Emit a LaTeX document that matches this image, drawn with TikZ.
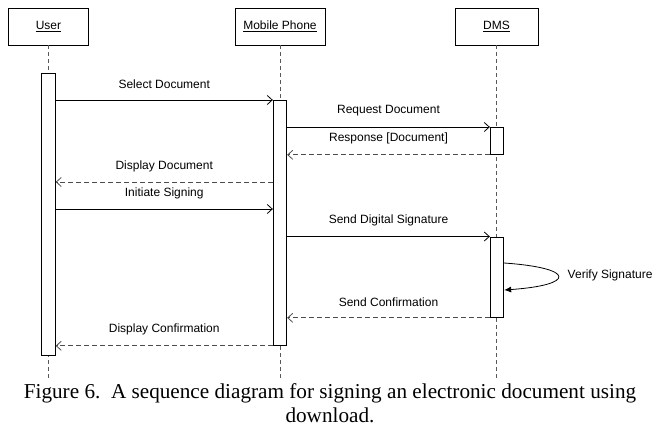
\documentclass[tikz,border=0pt]{standalone}
\usepackage{fontspec}
\setmainfont{Liberation Serif}
\newfontfamily\arialfont{Liberation Sans}
\usepackage{tikz}
\usetikzlibrary{arrows.meta, positioning, calc}

\begin{document}
\begin{tikzpicture}[x=1pt, y=-1pt, line width=0.8pt,
		actor/.style={draw, rectangle, minimum height=37pt, font=\arialfont\fontsize{12}{14}\selectfont},
		act/.style={draw, rectangle, fill=white, minimum width=13.5pt, inner sep=0pt},
		life/.style={draw=gray!70!black, dash pattern=on 4pt off 3pt},
		msg/.style={-{Straight Barb[length=5pt,width=9pt]}},
		ret/.style={msg, draw=gray!60!black, dash pattern=on 5pt off 3pt},
		lbl/.style={midway, yshift=16pt, font=\arialfont\fontsize{12}{14}\selectfont}]
		\useasboundingbox (0,0) rectangle (652,426);
		% participants
		\node[actor, minimum width=80pt] (user) at (48.5,26.5) {\underline{User}};
		\node[actor, minimum width=90pt] (phone) at (280,26.5) {\underline{Mobile Phone}};
		\node[actor, minimum width=83pt] (dms) at (496.5,26.5) {\underline{DMS}};
		\foreach \p in {user,phone,dms} {
			\coordinate (\p-end) at (\p.south |- 0,378);
			\draw[life] (\p.south) -- (\p-end);
		}
		% activations
		\node[act, anchor=north, minimum height=282pt] (ua) at (48.5,73) {};
		\node[act, anchor=north, minimum height=245pt] (pa) at (280,100) {};
		\node[act, anchor=north, minimum height=27pt] (da1) at (497,127) {};
		\node[act, anchor=north, minimum height=80.5pt] (da2) at (497,236.5) {};
		% messages
		\draw[msg] (ua.east |- pa.north) -- (pa.north west) node[lbl] {Select Document};
		\draw[msg] (pa.east |- da1.north) -- (da1.north west) node[lbl] {Request Document};
		\draw[ret] (da1.south west) -- (pa.east |- da1.south) node[lbl] {Response [Document]};
		\draw[ret] (pa.west |- 0,182) -- (ua.east |- 0,182) node[lbl] {Display Document};
		\draw[msg] (ua.east |- 0,209) -- (pa.west |- 0,209) node[lbl] {Initiate Signing};
		\draw[msg] (pa.east |- da2.north) -- (da2.north west) node[lbl] {Send Digital Signature};
		\draw[-{Latex[length=7pt,width=6pt]}] ($(da2.north east)+(0,26.5)$) .. controls (576,268) and (576,285) .. ($(da2.north east)+(0,53.5)$);
		\node[anchor=west, font=\arialfont\fontsize{12}{14}\selectfont] (verify) at (564,275) {Verify Signature};
		\draw[ret] (da2.south west) -- (pa.east |- da2.south) node[lbl] {Send Confirmation};
		\draw[ret] (pa.south west) -- (ua.east |- pa.south) node[lbl] {Display Confirmation};
		% caption
		\node[align=center, inner sep=0pt, font=\fontsize{21.2}{24}\selectfont] (caption) at (330,403.5)
			{Figure 6.\ \ A sequence diagram for signing an electronic document using\\download.};
	\end{tikzpicture}
\end{document}
